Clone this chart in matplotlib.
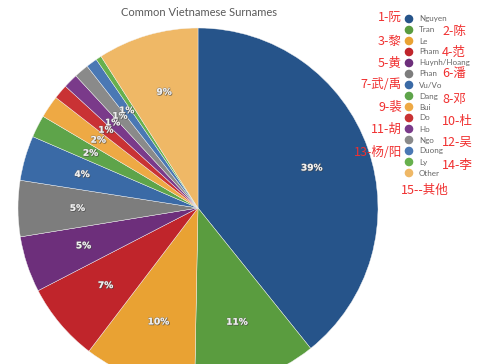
import matplotlib
matplotlib.use('Agg')
import matplotlib.pyplot as plt
import matplotlib.patheffects as pe
from matplotlib.patches import Circle
import numpy as np

names = ['Nguyen', 'Tran', 'Le', 'Pham', 'Huynh/Hoang', 'Phan', 'Vu/Vo', 'Dang',
         'Bui', 'Do', 'Ho', 'Ngo', 'Duong', 'Ly', 'Other']
shares = [39, 11, 10, 7, 5, 5, 4, 2, 2, 1.3, 1.3, 1.3, 1, 0.5, 9]
pct_labels = ['39%', '11%', '10%', '7%', '5%', '5%', '4%', '2%', '2%', '1%', '1%', '1%', '1%', '', '9%']
colors = ['#26548a', '#5a9c3f', '#e9a233', '#c0252b', '#6d2f7b', '#7d7d7d', '#3a6aa6', '#5ea44a',
          '#eea944', '#c93234', '#7a3a8a', '#8a8a8a', '#4a78b4', '#67b04d', '#efb866']
cn_labels = ['1-阮', '2-陈', '3-黎', '4-范', '5-黄', '6-潘', '7-武/禹', '8-邓',
             '9-裴', '10-杜', '11-胡', '12-吴', '13-杨/阳', '14-李']

W, H = 500, 364
fig = plt.figure(figsize=(5, 3.64), dpi=100)
ax = fig.add_axes([0, 0, 1, 1])

cx, cy, R = 198, H - 208, 180
wedges, _ = ax.pie(shares, colors=colors, startangle=90, counterclock=False,
                   center=(cx, cy), radius=R, frame=True,
                   wedgeprops=dict(edgecolor='#f4f4f4', linewidth=0.3))
ax.set_xlim(0, W)
ax.set_ylim(0, H)
ax.set_aspect('equal')
ax.axis('off')

# percent labels
for w, lab in zip(wedges, pct_labels):
    if not lab:
        continue
    ang = np.deg2rad((w.theta1 + w.theta2) / 2)
    r = 0.67 * R
    ax.text(cx + r * np.cos(ang), cy + r * np.sin(ang), lab, ha='center', va='center',
            fontsize=6.5, color='#f0f0f0', family='DejaVu Sans', fontweight='semibold',
            path_effects=[pe.withSimplePatchShadow(offset=(0.6, -0.6), shadow_rgbFace='#333333', alpha=0.6),
                          pe.withStroke(linewidth=1.0, foreground='#666666', alpha=0.4)])

ax.text(199, H - 12, 'Common Vietnamese Surnames', ha='center', va='center',
        fontsize=8, color='#5a5a5a', family='Lato')

# legend
for i, (n, c) in enumerate(zip(names, colors)):
    y = H - (19 + i * 11)
    ax.add_patch(Circle((409, y), 3.6, color=c))
    ax.text(419, y, n, ha='left', va='center', fontsize=5.8, color='#666666', family='Lato')

# chinese annotations
cn_y = [17, 32, 42, 52, 63, 74, 85, 99, 107, 121, 129, 142, 153, 165]
for i, (lab, y) in enumerate(zip(cn_labels, cn_y)):
    if i % 2 == 0:
        ax.text(402, H - y, lab, ha='right', va='center', fontsize=9, color='#f03030',
                family=['Noto Sans CJK SC', 'DejaVu Sans'])
    else:
        ax.text(442, H - y, lab, ha='left', va='center', fontsize=9, color='#f03030',
                family=['Noto Sans CJK SC', 'DejaVu Sans'])
ax.text(425, H - 190, '15--其他', ha='center', va='center', fontsize=9, color='#f03030',
        family=['Noto Sans CJK SC', 'DejaVu Sans'])

fig.savefig('out.png', dpi=100)
